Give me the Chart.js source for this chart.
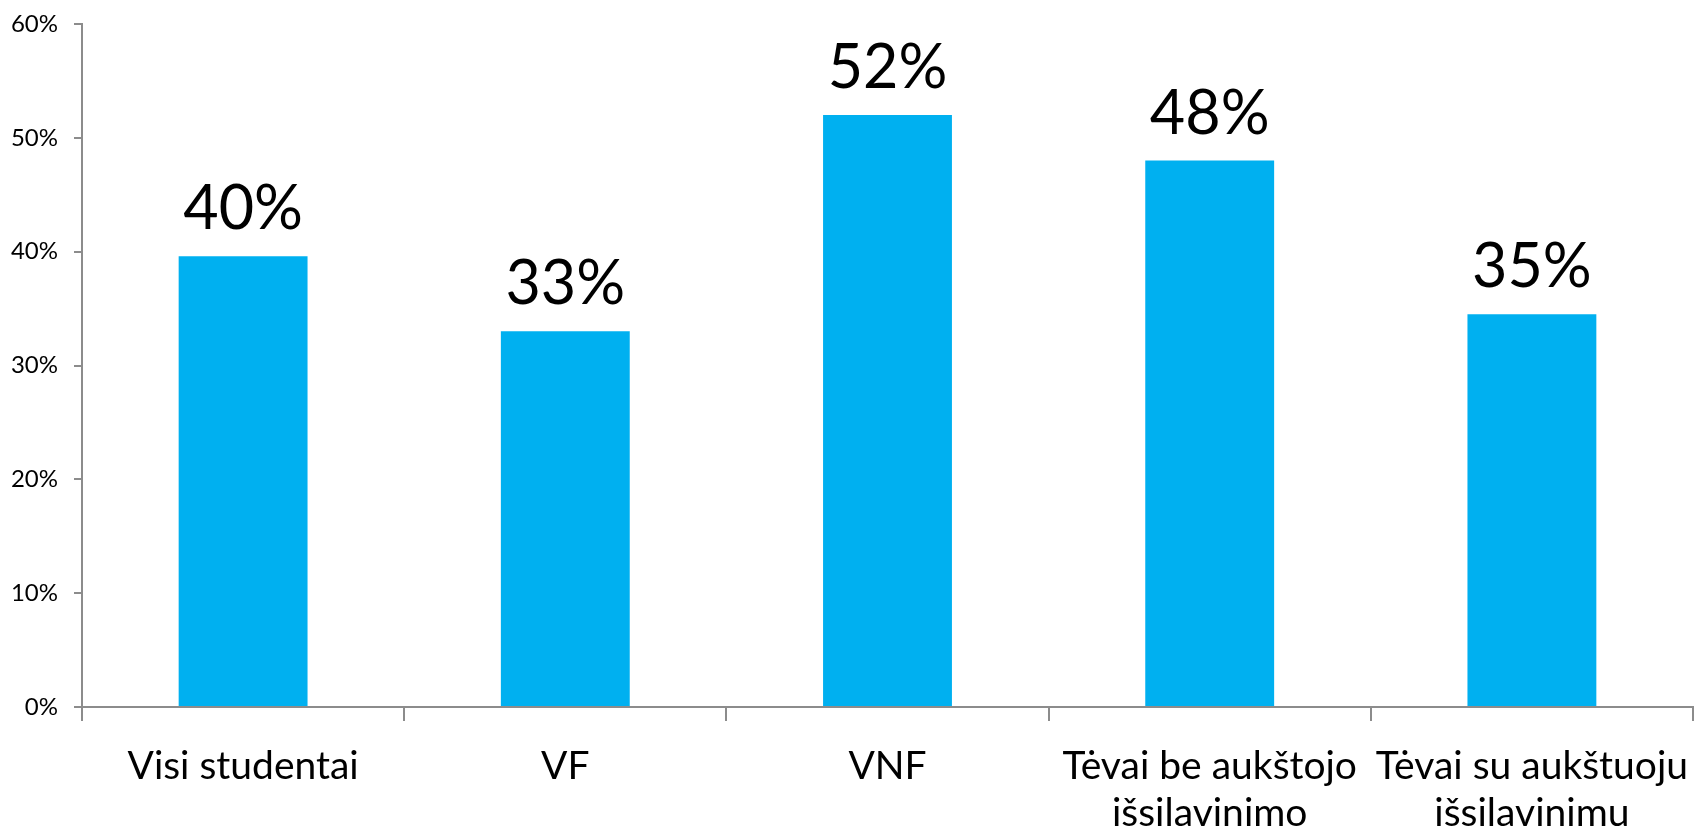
<!DOCTYPE html>
<html>
<head>
<meta charset="utf-8">
<script src="https://cdn.jsdelivr.net/npm/chart.js@4"></script>
<style>
  html, body { margin: 0; padding: 0; background: #fff; }
  #wrap { width: 1698px; height: 829px; }
</style>
</head>
<body>
<div id="wrap"><canvas id="barChart"></canvas></div>
<script>
// data
const categories = [
    'Visi studentai',
    'VF',
    'VNF',
    ['Tėvai be aukštojo', 'išsilavinimo'],
    ['Tėvai su aukštuoju', 'išsilavinimu']
];
const shares = [39.6, 33, 52, 48, 34.5];
const yTicks = [0, 10, 20, 30, 40, 50, 60];

const FONT = 'Lato, "Open Sans", sans-serif';
const AXIS_COLOR = '#8c8c8c';

// draw the big value labels above each bar
const valueLabels = {
    id: 'valueLabels',
    afterDatasetsDraw(chart) {
        const ctx = chart.ctx;
        const meta = chart.getDatasetMeta(0);
        ctx.save();
        ctx.font = '61px ' + FONT;
        ctx.fillStyle = '#000';
        ctx.textAlign = 'center';
        ctx.textBaseline = 'alphabetic';
        meta.data.forEach((bar, i) => {
            ctx.fillText(Math.round(shares[i]) + '%', bar.x, bar.y - 27);
        });
        ctx.restore();
    }
};

const ctx = document.getElementById('barChart').getContext('2d');
new Chart(ctx, {
    type: 'bar',
    data: {
        labels: categories,
        datasets: [{
            data: shares,
            backgroundColor: '#00b0f0',
            borderWidth: 0,
            barPercentage: 0.4,
            categoryPercentage: 1
        }]
    },
    plugins: [valueLabels],
    options: {
        responsive: true,
        maintainAspectRatio: false,
        animation: false,
        layout: { padding: { top: 24, right: 5, left: 0, bottom: 0 } },
        plugins: {
            legend: { display: false },
            tooltip: { enabled: false }
        },
        scales: {
            y: {
                min: 0,
                max: 60,
                afterBuildTicks: (scale) => {
                    scale.ticks = yTicks.map(v => ({ value: v }));
                },
                afterFit: (scale) => {
                    scale.width = 82;
                    scale.paddingTop = 0;
                    scale.paddingBottom = 0;
                },
                border: { color: AXIS_COLOR, width: 2 },
                grid: {
                    drawOnChartArea: false,
                    drawTicks: true,
                    tickLength: 8,
                    color: AXIS_COLOR,
                    lineWidth: 2
                },
                ticks: {
                    color: '#000',
                    padding: 16,
                    font: { family: FONT, size: 24 },
                    callback: (v) => v + '%'
                }
            },
            x: {
                afterFit: (scale) => {
                    scale.height = 122;
                    scale.paddingLeft = 0;
                    scale.paddingRight = 0;
                },
                border: { color: AXIS_COLOR, width: 2 },
                grid: {
                    offset: true,
                    drawOnChartArea: false,
                    drawTicks: true,
                    tickLength: 14,
                    color: AXIS_COLOR,
                    lineWidth: 2
                },
                ticks: {
                    color: '#000',
                    padding: 22,
                    autoSkip: false,
                    maxRotation: 0,
                    minRotation: 0,
                    font: { family: FONT, size: 39, lineHeight: 1.2 }
                }
            }
        }
    }
});
</script>
</body>
</html>
